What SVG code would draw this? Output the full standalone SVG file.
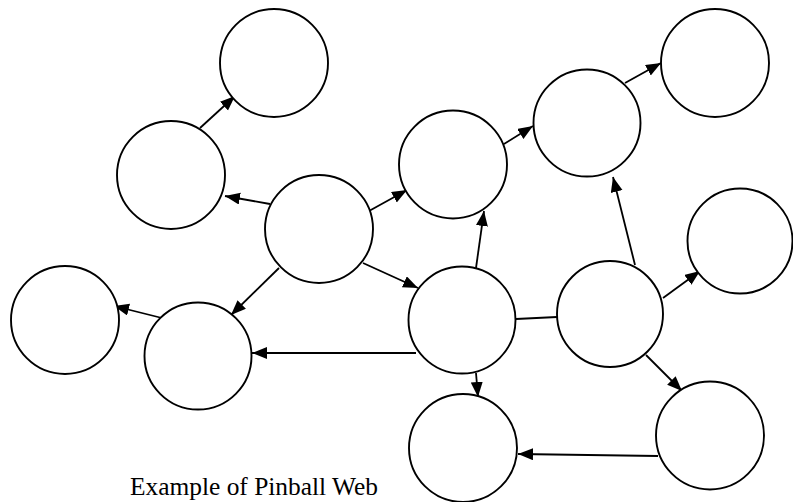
<svg xmlns="http://www.w3.org/2000/svg" width="793" height="502" viewBox="0 0 793 502">
  <style>
    .node { fill: #ffffff; stroke: #000000; stroke-width: 1.9; }
    .link { stroke: #000000; stroke-width: 1.8; fill: none; }
    .arrow { marker-end: url(#head); }
    .caption { font-family: "Liberation Serif", "Times New Roman", serif; font-size: 25px; fill: #000000; }
  </style>
  <defs>
    <marker id="head" markerUnits="userSpaceOnUse" markerWidth="16" markerHeight="13" refX="15" refY="6" orient="auto">
      <path d="M0,0 L15,6 L0,12 z" fill="#000000"/>
    </marker>
  </defs>
  <rect width="793" height="502" fill="#ffffff"/>

  <!-- arrows between the nodes; the middle pair is joined by a plain line -->
  <g id="connectors">
    <line class="link arrow" x1="200" y1="128" x2="235" y2="96"/>
    <line class="link arrow" x1="270" y1="204" x2="225" y2="196"/>
    <line class="link arrow" x1="369" y1="211" x2="407" y2="190"/>
    <line class="link arrow" x1="279" y1="268" x2="231" y2="315"/>
    <line class="link arrow" x1="363" y1="263" x2="418" y2="288"/>
    <line class="link arrow" x1="162" y1="318" x2="114" y2="306"/>
    <line class="link arrow" x1="416" y1="353" x2="252" y2="353"/>
    <line class="link arrow" x1="476" y1="268" x2="484" y2="211"/>
    <line class="link" x1="516" y1="319" x2="557" y2="317"/>
    <line class="link arrow" x1="476" y1="373" x2="478" y2="397"/>
    <line class="link arrow" x1="504" y1="144" x2="533" y2="126"/>
    <line class="link arrow" x1="625" y1="83" x2="661" y2="63"/>
    <line class="link arrow" x1="635" y1="265" x2="613" y2="177"/>
    <line class="link arrow" x1="663" y1="298" x2="700" y2="271"/>
    <line class="link arrow" x1="646" y1="355" x2="682" y2="391"/>
    <line class="link arrow" x1="658" y1="456" x2="518" y2="454"/>
  </g>

  <g id="node-a"><circle class="node" cx="274" cy="63" r="54"/></g>
  <g id="node-b"><circle class="node" cx="171" cy="175" r="54"/></g>
  <g id="node-c"><circle class="node" cx="319" cy="229" r="54"/></g>
  <g id="node-d"><circle class="node" cx="65" cy="320" r="54"/></g>
  <g id="node-e"><circle class="node" cx="198" cy="356" r="53.5"/></g>
  <g id="node-f"><circle class="node" cx="462" cy="320" r="53.5"/></g>
  <g id="node-g"><circle class="node" cx="453" cy="164.5" r="54"/></g>
  <g id="node-h"><circle class="node" cx="587" cy="123" r="53.5"/></g>
  <g id="node-i"><circle class="node" cx="715" cy="63" r="54"/></g>
  <g id="node-j"><circle class="node" cx="610" cy="314" r="53"/></g>
  <g id="node-k"><circle class="node" cx="740" cy="241" r="52.5"/></g>
  <g id="node-l"><circle class="node" cx="463" cy="448" r="54"/></g>
  <g id="node-m"><circle class="node" cx="710" cy="435.5" r="54"/></g>

  <text class="caption" x="130" y="495" textLength="248" lengthAdjust="spacingAndGlyphs">Example of Pinball Web</text>
</svg>
